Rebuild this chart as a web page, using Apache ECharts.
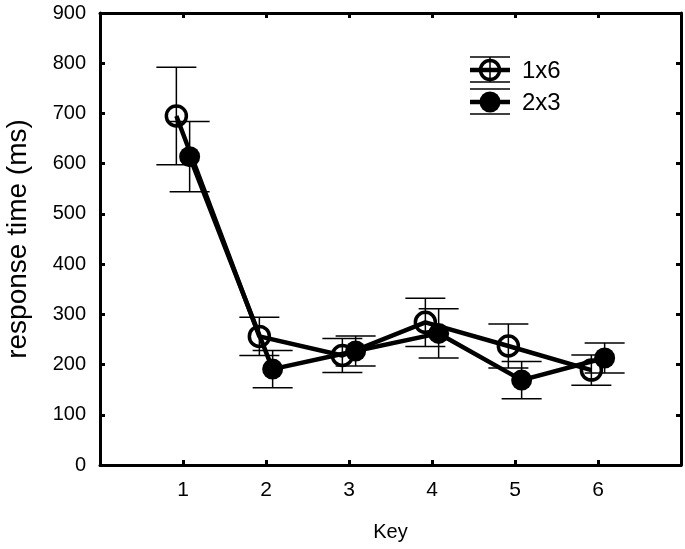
<!DOCTYPE html>
<html>
<head>
<meta charset="utf-8">
<script src="https://cdn.jsdelivr.net/npm/echarts@6/dist/echarts.min.js"></script>
<style>
  html, body { margin: 0; padding: 0; background: #fff; }
  #chart { width: 685px; height: 549px; }
</style>
</head>
<body>
<div id="chart"></div>
<script>
// categories on the x axis
const keys = [1, 2, 3, 4, 5, 6];
// mean response times and error (half-length of bars)
const mean1x6 = [695, 256, 218, 284, 237, 189];
const err1x6 = [97, 38, 34, 48, 44, 30];
const mean2x3 = [614, 191, 227, 262, 169, 213];
const err2x3 = [70, 37, 30, 49, 37, 30];
const yTicks = [0, 100, 200, 300, 400, 500, 600, 700, 800, 900];

const FONT = '"Liberation Sans", Arial, sans-serif';
const offset = 0.08; // series are dodged a little around each key

const lineData = (means, dx) => keys.map((k, i) => [k + dx, means[i]]);
const errData = (means, errs, dx) => keys.map((k, i) => [k + dx, means[i] - errs[i], means[i] + errs[i]]);

function renderErr(params, api) {
    const x = api.value(0);
    const lo = api.coord([x, api.value(1)]);
    const hi = api.coord([x, api.value(2)]);
    const hw = 20;
    const style = {stroke: '#000', lineWidth: 1.5};
    return {
        type: 'group',
        children: [
            {type: 'line', shape: {x1: lo[0], y1: lo[1], x2: hi[0], y2: hi[1]}, style: style},
            {type: 'line', shape: {x1: lo[0] - hw, y1: lo[1], x2: lo[0] + hw, y2: lo[1]}, style: style},
            {type: 'line', shape: {x1: hi[0] - hw, y1: hi[1], x2: hi[0] + hw, y2: hi[1]}, style: style}
        ]
    };
}

const axisLine = {show: true, onZero: false, lineStyle: {color: '#000', width: 3}};
const axisTick = {show: true, inside: true, length: 5, lineStyle: {color: '#000', width: 3}};

const chart = echarts.init(document.getElementById('chart'));
chart.setOption({
    animation: false,
    grid: {left: 100, right: 4, top: 13, bottom: 84, outerBoundsMode: 'none', containLabel: false},
    xAxis: [{
        type: 'value', min: 0, max: 7, interval: 1,
        axisLine: axisLine, axisTick: axisTick, splitLine: {show: false},
        axisLabel: {
            margin: 15, fontSize: 21, color: '#000', fontFamily: FONT,
            formatter: v => keys.indexOf(v) >= 0 ? String(v) : ''
        },
        name: 'Key', nameLocation: 'middle', nameGap: 57,
        nameTextStyle: {fontSize: 20, color: '#000', fontFamily: FONT}
    }, {
        type: 'value', position: 'top', min: 0, max: 7, interval: 1,
        axisLine: axisLine, axisTick: axisTick, splitLine: {show: false},
        axisLabel: {show: false}
    }],
    yAxis: [{
        type: 'value', min: 0, max: 900, interval: 100,
        axisLine: axisLine, axisTick: axisTick, splitLine: {show: false},
        axisLabel: {
            margin: 14, fontSize: 20, color: '#000', fontFamily: FONT,
            formatter: v => yTicks.indexOf(v) >= 0 ? String(v) : ''
        },
        name: 'response time (ms)', nameLocation: 'middle', nameGap: 68,
        nameTextStyle: {fontSize: 28, color: '#000', fontFamily: FONT}
    }, {
        type: 'value', position: 'right', min: 0, max: 900, interval: 100,
        axisLine: axisLine, axisTick: axisTick, splitLine: {show: false},
        axisLabel: {show: false}
    }],
    series: [
        {
            name: '1x6 err', type: 'custom', renderItem: renderErr,
            data: errData(mean1x6, err1x6, -offset), z: 2
        },
        {
            name: '2x3 err', type: 'custom', renderItem: renderErr,
            data: errData(mean2x3, err2x3, offset), z: 2
        },
        {
            name: '1x6', type: 'line', data: lineData(mean1x6, -offset),
            symbol: 'circle', symbolSize: 20,
            lineStyle: {color: '#000', width: 4.5},
            itemStyle: {color: 'rgba(0,0,0,0)', borderColor: '#000', borderWidth: 3.5},
            z: 3
        },
        {
            name: '2x3', type: 'line', data: lineData(mean2x3, offset),
            symbol: 'circle', symbolSize: 21,
            lineStyle: {color: '#000', width: 4.5},
            itemStyle: {color: '#000', borderColor: '#000', borderWidth: 0},
            z: 4
        }
    ],
    graphic: [
        // legend drawn by hand to mimic error-bar style keys
        {type: 'line', shape: {x1: 470, y1: 57, x2: 510, y2: 57}, style: {stroke: '#000', lineWidth: 1.5}},
        {type: 'line', shape: {x1: 470, y1: 70, x2: 510, y2: 70}, style: {stroke: '#000', lineWidth: 4.5}},
        {type: 'line', shape: {x1: 490, y1: 57, x2: 490, y2: 82}, style: {stroke: '#000', lineWidth: 1.5}},
        {type: 'line', shape: {x1: 470, y1: 82, x2: 510, y2: 82}, style: {stroke: '#000', lineWidth: 1.5}},
        {type: 'circle', shape: {cx: 490, cy: 70, r: 9.5}, style: {fill: 'none', stroke: '#000', lineWidth: 3.5}},
        {type: 'text', x: 522, y: 71, style: {text: '1x6', fontSize: 24, fill: '#000', fontFamily: FONT, verticalAlign: 'middle'}},
        {type: 'line', shape: {x1: 470, y1: 89, x2: 510, y2: 89}, style: {stroke: '#000', lineWidth: 1.5}},
        {type: 'line', shape: {x1: 470, y1: 102, x2: 510, y2: 102}, style: {stroke: '#000', lineWidth: 4.5}},
        {type: 'line', shape: {x1: 470, y1: 114, x2: 510, y2: 114}, style: {stroke: '#000', lineWidth: 1.5}},
        {type: 'circle', shape: {cx: 490, cy: 102, r: 10.5}, style: {fill: '#000'}},
        {type: 'text', x: 522, y: 103, style: {text: '2x3', fontSize: 24, fill: '#000', fontFamily: FONT, verticalAlign: 'middle'}}
    ]
});
</script>
</body>
</html>
